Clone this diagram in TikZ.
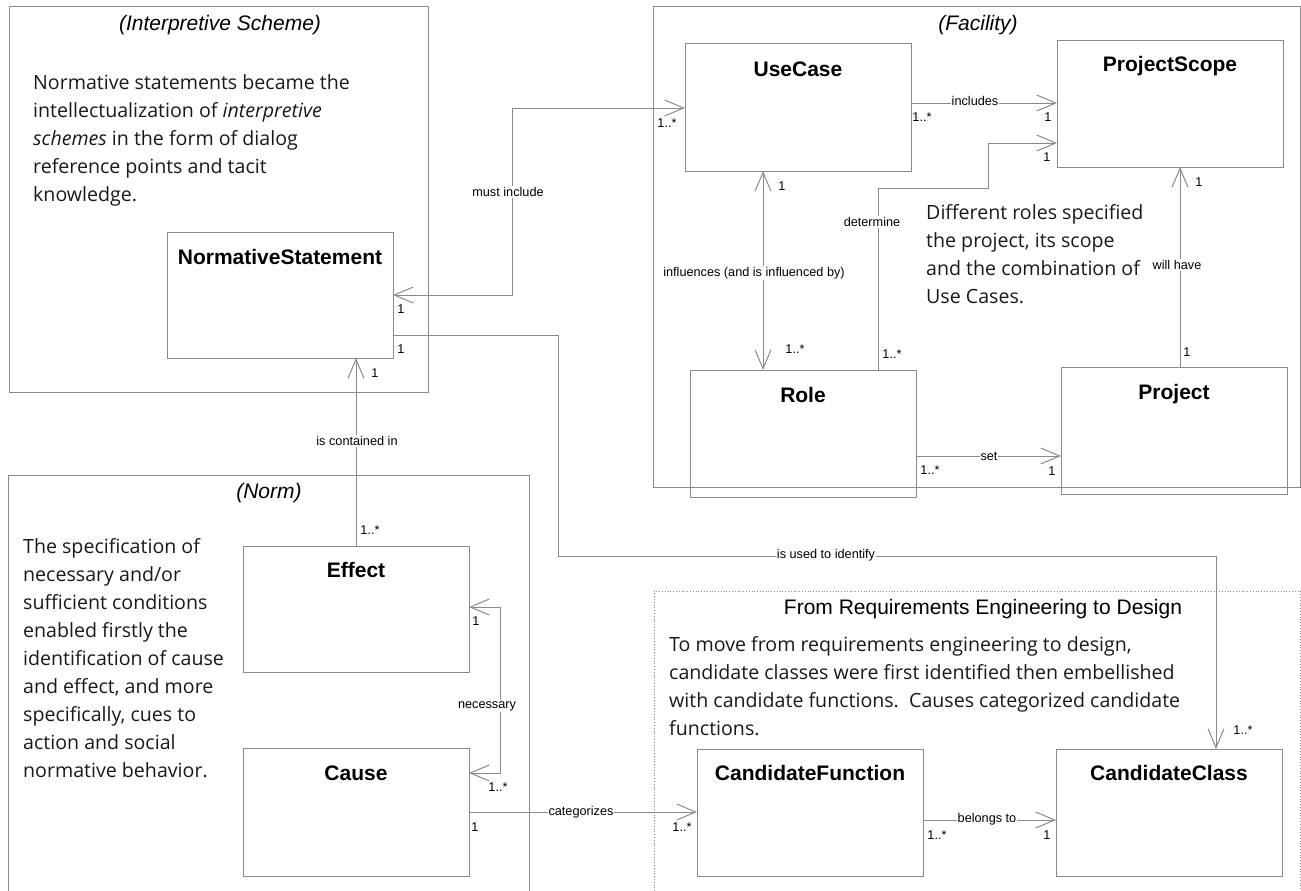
\documentclass[tikz,border=0pt]{standalone}
\usepackage{fontspec}
\setmainfont{Liberation Sans}
\newfontfamily\parafont{Open Sans}
\usetikzlibrary{arrows.meta}
\definecolor{linegray}{RGB}{138,138,138}
\tikzset{
  >={Straight Barb[length=19pt,width=16pt]},
  frame/.style={draw=linegray, line width=1pt},
  cls/.style={draw=linegray, line width=1pt, minimum width=226pt, minimum height=127pt,
    anchor=north west, inner sep=0pt, outer sep=0pt},
  ctitle/.style={anchor=base, inner sep=0pt, font=\fontsize{21}{24}\selectfont\bfseries},
  ftitle/.style={inner sep=0pt, font=\fontsize{21}{24}\selectfont\itshape},
  rtitle/.style={inner sep=0pt, font=\fontsize{21}{24}\selectfont},
  conn/.style={draw=linegray, line width=1pt},
  mult/.style={inner sep=0pt, font=\fontsize{12.7}{14}\selectfont},
  elab/.style={inner sep=1pt, fill=white, font=\fontsize{12.7}{14}\selectfont},
  % multi-line notes: the base anchor sits on the baseline of the last line
  para/.style={anchor=base west, align=left, inner sep=0pt, text=black!90}
}
\begin{document}
\begin{tikzpicture}[x=1pt,y=-1pt]
\useasboundingbox (0,0) rectangle (1301,891);

% package frames
\draw[frame] (9,7) rectangle (428,392);
\draw[frame] (653,7) rectangle (1300,487);
\draw[frame] (8,891) -- (8,475) -- (529,475) -- (529,891);
\draw[draw=linegray, line width=0.8pt, dotted] (654,891) -- (654,591) -- (1300,591) -- (1300,891);

\node[ftitle] (tint) at (220,25) {(Interpretive Scheme)};
\node[ftitle] (tfac) at (978,25) {(Facility)};
\node[ftitle] (tnorm) at (269,493) {(Norm)};
\node[rtitle] (treq) at (983,609) {From Requirements Engineering to Design};

% notes
\node[para, font=\parafont\fontsize{19.6}{28}\selectfont] (pint) at (33,201)
  {Normative statements became the\\
   intellectualization of \textit{interpretive}\\
   \textit{schemes} in the form of dialog\\
   reference points and tacit\\
   knowledge.};
\node[para, font=\parafont\fontsize{19.6}{27.9}\selectfont] (pnorm) at (23,777)
  {The specification of\\
   necessary and/or\\
   sufficient conditions\\
   enabled firstly the\\
   identification of cause\\
   and effect, and more\\
   specifically, cues to\\
   action and social\\
   normative behavior.};
\node[para, font=\parafont\fontsize{19.6}{28}\selectfont] (pfac) at (926,303)
  {Different roles specified\\
   the project, its scope\\
   and the combination of\\
   Use Cases.};
\node[para, font=\parafont\fontsize{19.6}{27.7}\selectfont] (preq) at (669,735)
  {To move from requirements engineering to design,\\
   candidate classes were first identified then embellished\\
   with candidate functions.\ \ Causes categorized candidate\\
   functions.};

% classes
\node[cls, minimum height=126pt] (ns) at (167,232) {};
\node[cls] (uc) at (685,44) {};
\node[cls, minimum height=126pt] (ps) at (1057,41) {};
\node[cls] (role) at (690,370) {};
\node[cls] (pr) at (1061,367) {};
\node[cls, minimum height=126pt] (eff) at (243,546) {};
\node[cls, minimum height=128pt] (cause) at (243,748) {};
\node[cls] (cf) at (697,749) {};
\node[cls] (cc) at (1056,749) {};

\node[ctitle] at ([yshift=-32.5pt]ns.north) {NormativeStatement};
\node[ctitle] at ([yshift=-33pt]uc.north) {UseCase};
\node[ctitle] at ([yshift=-31pt]ps.north) {ProjectScope};
\node[ctitle] at ([yshift=-32pt]role.north) {Role};
\node[ctitle] at ([yshift=-32pt]pr.north) {Project};
\node[ctitle] at ([yshift=-31pt]eff.north) {Effect};
\node[ctitle] at ([yshift=-32pt]cause.north) {Cause};
\node[ctitle] at ([yshift=-31pt]cf.north) {CandidateFunction};
\node[ctitle] at ([yshift=-31pt]cc.north) {CandidateClass};

% attachment points
\coordinate (ns-a) at ([yshift=-63pt]ns.north east);
\coordinate (ns-b) at ([yshift=-103pt]ns.north east);
\coordinate (uc-w) at ([yshift=-64pt]uc.north west);
\coordinate (uc-e) at ([yshift=-59pt]uc.north east);
\coordinate (uc-s) at ([xshift=78pt]uc.south west);
\coordinate (ro-n) at ([xshift=188pt]role.north west);
\coordinate (ro-e) at ([yshift=-86pt]role.north east);
\coordinate (ps-w) at ([yshift=-102pt]ps.north west);
\coordinate (pr-n) at ([xshift=119pt]pr.north west);
\coordinate (ef-e) at ([yshift=-61pt]eff.north east);
\coordinate (ca-e) at ([yshift=-25pt]cause.north east);
\coordinate (ca-r) at ([yshift=-64pt]cause.north east);
\coordinate (cf-e) at ([yshift=-71pt]cf.north east);
\coordinate (cc-n) at ([xshift=160pt]cc.north west);

% connectors
\draw[conn, <->] (ns-a) -- ++(119,0) |- (uc-w);
\draw[conn, ->] (ns-b) -- ++(165,0) -- ++(0,221) -| (cc-n);
\draw[conn, ->] (eff.north) -- (eff.north |- ns.south);
\draw[conn, <->] (ef-e) -- ++(31,0) |- (ca-e);
\draw[conn, ->] (ca-r) -- (ca-r -| cf.west);
\draw[conn, ->] (cf-e) -- (cf-e -| cc.west);
\draw[conn, ->] (uc-e) -- (uc-e -| ps.west);
\draw[conn, <->] (uc-s) -- (uc-s |- role.north);
\draw[conn, ->] (ro-n) -- ++(0,-182) -- ++(110,0) |- (ps-w);
\draw[conn, ->] (pr-n) -- (pr-n |- ps.south);
\draw[conn, ->] (ro-e) -- (ro-e -| pr.west);

% association names
\node[elab] at (508,192) {must include};
\node[elab] at (826,555) {is used to identify};
\node[elab] at (357,441) {is contained in};
\node[elab] at (487,706) {necessary};
\node[elab] at (581,812) {categorizes};
\node[elab] at (987,819) {belongs to};
\node[elab] at (975,101) {includes};
\node[elab] at (754,273) {influences (and is influenced by)};
\node[elab] at (872,222) {determine};
\node[elab] at (1177,265) {will have};
\node[elab] at (989,456) {set};

% multiplicities
\node[mult] at (401,309) {1};
\node[mult] at (401,349) {1};
\node[mult] at (375,373) {1};
\node[mult] at (667,123) {1..*};
\node[mult] at (922,117) {1..*};
\node[mult] at (782,186) {1};
\node[mult] at (1048,117) {1};
\node[mult] at (1047,157) {1};
\node[mult] at (1199,182) {1};
\node[mult] at (795,349) {1..*};
\node[mult] at (892,354) {1..*};
\node[mult] at (930,470) {1..*};
\node[mult] at (1187,352) {1};
\node[mult] at (1052,471) {1};
\node[mult] at (370,530) {1..*};
\node[mult] at (476,621) {1};
\node[mult] at (498,787) {1..*};
\node[mult] at (475,827) {1};
\node[mult] at (682,827) {1..*};
\node[mult] at (937,835) {1..*};
\node[mult] at (1047,835) {1};
\node[mult] at (1243,730) {1..*};
\end{tikzpicture}
\end{document}
